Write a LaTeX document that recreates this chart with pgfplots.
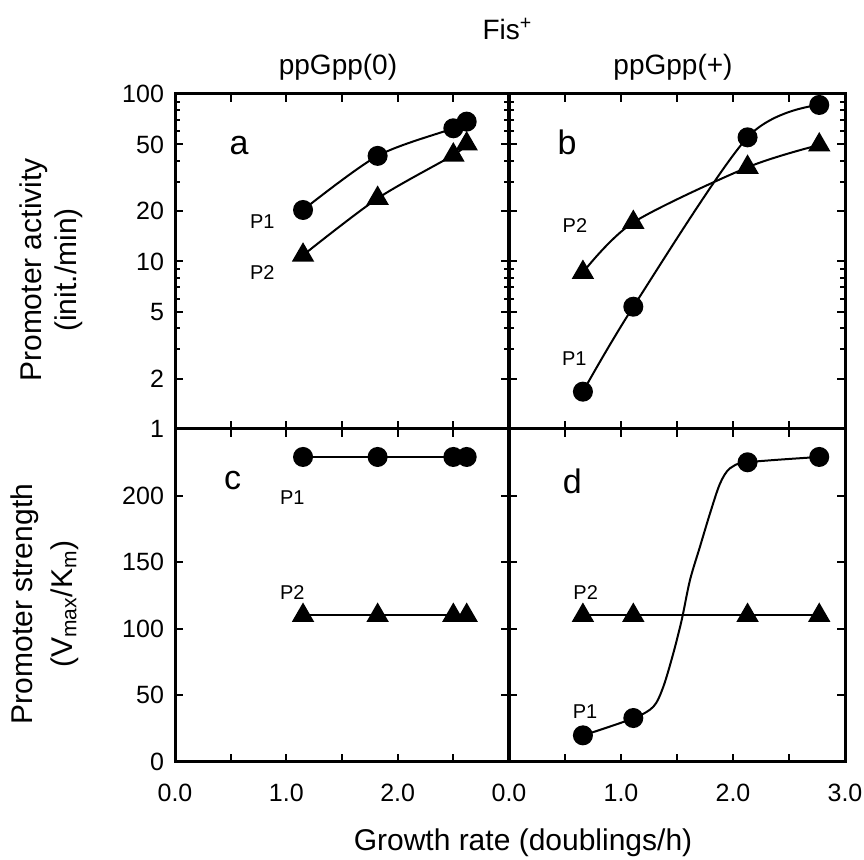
\documentclass[border=0pt]{standalone}
\usepackage{fontspec}
\setmainfont{Liberation Sans}
\usepackage{pgfplots}
\pgfplotsset{compat=1.18}
\pgfplotsset{
  panel/.style={
    scale only axis, xmin=0, xmax=3,
    xtick={0,0.5,1,1.5,2,2.5,3},
    tick align=inside, xtick pos=both, ytick pos=both,
    axis line style={line width=1.5pt},
    every tick/.style={black, line width=1pt},
    major tick length=4pt, minor tick length=2.5pt,
    tick label style={font=\fontsize{12.5}{14}\selectfont},
    yticklabel style={xshift=-2pt},
    xticklabel style={yshift=-7.5pt},
    clip=false,
  },
  p1/.style={black, line width=1pt, mark=*, mark size=4.5pt, mark options={solid, fill=black}},
  p2/.style={black, line width=1pt, mark=triangle*, mark size=5.5pt, mark options={solid, fill=black}},
}
\tikzset{
  lett/.style={font=\fontsize{17}{19}\selectfont},
  plab/.style={font=\fontsize{10}{12}\selectfont},
}
\begin{document}
\begin{tikzpicture}
\useasboundingbox (0,0) rectangle (432pt,430pt);
% panel a
\begin{axis}[panel, ymode=log, ymin=1, ymax=100, ytick={1,2,5,10,20,50,100},
  minor ytick={3,4,6,7,8,9,30,40,60,70,80,90}, height=167.5pt,
  at={(87.5pt,215.5pt)}, anchor=south west, width=167pt,
  xticklabels={}, yticklabels={1,2,5,10,20,50,100}]
\addplot[p1, smooth] coordinates {(1.15,20.3) (1.82,42.7) (2.50,62.4) (2.62,68.4)};
\addplot[p2, smooth] coordinates {(1.15,10.9) (1.82,23.8) (2.50,43.2) (2.62,50.3)};
\node[lett] at (axis cs:0.575,49.1) {a};
\node[plab] at (axis cs:0.784,17.3) {P1};
\node[plab] at (axis cs:0.784,8.62) {P2};
\end{axis}
% panel b
\begin{axis}[panel, ymode=log, ymin=1, ymax=100, ytick={1,2,5,10,20,50,100},
  minor ytick={3,4,6,7,8,9,30,40,60,70,80,90}, height=167.5pt,
  at={(254.5pt,215.5pt)}, anchor=south west, width=168pt,
  xticklabels={}, yticklabels={}]
\addplot[p1, smooth] coordinates {(0.66,1.67) (1.11,5.37) (2.13,55.1) (2.77,86)};
\addplot[p2, smooth] coordinates {(0.66,8.6) (1.11,17.1) (2.13,36.5) (2.77,49.6)};
\node[lett] at (axis cs:0.518,51.2) {b};
\node[plab] at (axis cs:0.589,16.4) {P2};
\node[plab] at (axis cs:0.583,2.62) {P1};
\end{axis}
% panel c
\begin{axis}[panel, ymin=0, ymax=250, ytick={0,50,100,150,200,250}, height=166.5pt,
  at={(87.5pt,49pt)}, anchor=south west, width=167pt,
  xticklabels={0.0,,1.0,,2.0,,}, yticklabels={0,50,100,150,200,}]
\addplot[p1] coordinates {(1.15,229) (1.82,229) (2.50,229) (2.62,229)};
\addplot[p2] coordinates {(1.15,110) (1.82,110) (2.50,110) (2.62,110)};
\node[lett] at (axis cs:0.518,211) {c};
\node[plab] at (axis cs:1.054,198.7) {P1};
\node[plab] at (axis cs:1.054,127.4) {P2};
\end{axis}
% panel d
\begin{axis}[panel, ymin=0, ymax=250, ytick={0,50,100,150,200,250}, height=166.5pt,
  at={(254.5pt,49pt)}, anchor=south west, width=168pt,
  xticklabels={0.0,,1.0,,2.0,,3.0}, yticklabels={}]
\addplot[black, line width=1pt, smooth, no marks] coordinates {(0.664,20) (1.11,32.8) (1.289,41.5) (1.378,56.5) (1.467,81.6) (1.542,106.6) (1.616,136.6) (1.705,161.6) (1.795,186.7) (1.884,209) (1.973,220.5) (2.13,225) (2.77,229)};
\addplot[p1, only marks] coordinates {(0.66,20) (1.11,33) (2.13,225) (2.77,229)};
\addplot[p2] coordinates {(0.66,110) (1.11,110) (2.13,110) (2.77,110)};
\node[lett] at (axis cs:0.565,211) {d};
\node[plab] at (axis cs:0.685,127.4) {P2};
\node[plab] at (axis cs:0.679,37.8) {P1};
\end{axis}
% titles and labels
\node[anchor=base, font=\fontsize{14}{16}\selectfont] at (253.75pt,410pt) {Fis\textsuperscript{+}};
\node[anchor=base, font=\fontsize{14}{16}\selectfont] at (169pt,392.5pt) {ppGpp(0)};
\node[anchor=base, font=\fontsize{14}{16}\selectfont] at (336.5pt,392.5pt) {ppGpp(+)};
\node[anchor=base, font=\fontsize{15}{18}\selectfont] at (261.5pt,4.5pt) {Growth rate (doublings/h)};
\node[anchor=base, rotate=90, font=\fontsize{15}{18}\selectfont] at (20.5pt,295pt) {Promoter activity};
\node[anchor=base, rotate=90, font=\fontsize{15}{18}\selectfont] at (38pt,295pt) {(init./min)};
\node[anchor=base, rotate=90, font=\fontsize{15}{18}\selectfont] at (16pt,128pt) {Promoter strength};
\node[anchor=base, rotate=90, font=\fontsize{15}{18}\selectfont] at (36pt,128pt) {(V\textsubscript{max}/K\textsubscript{m})};
\end{tikzpicture}
\end{document}
